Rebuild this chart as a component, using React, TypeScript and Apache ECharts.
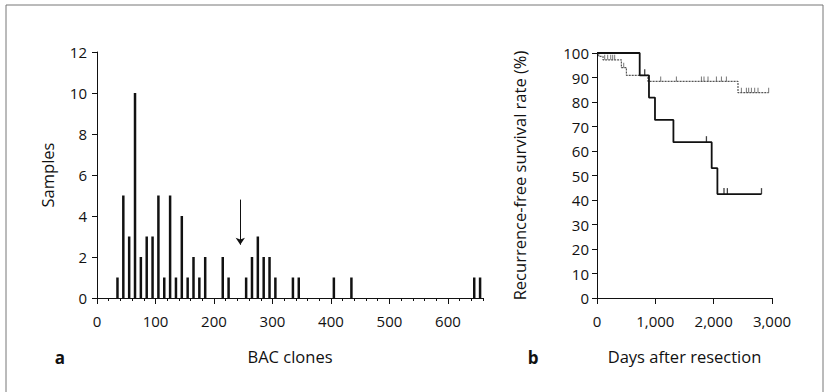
import React, { useEffect, useRef } from "react";
import * as echarts from "echarts";

// ---- Panel a: histogram of BAC clones ----
const binCenters = [35, 45, 55, 65, 75, 85, 95, 105, 115, 125, 135, 145, 155, 165, 175, 185, 215, 225, 255, 265, 275, 285, 295, 305, 335, 345, 405, 435, 645, 655];
const sampleCounts = [1, 5, 3, 10, 2, 3, 3, 5, 1, 5, 1, 4, 1, 2, 1, 2, 2, 1, 1, 2, 3, 2, 2, 1, 1, 1, 1, 1, 1, 1];
const bacMajorTicks = [0, 100, 200, 300, 400, 500, 600];
const arrowX = 245;
const arrowFromY = 4.8;
const arrowToY = 2.6;

// ---- Panel b: Kaplan-Meier curves ----
const solidTimes = [0, 732, 891, 994, 1310, 1966, 2064, 2820];
const solidSurv = [100, 90.9, 81.8, 72.7, 63.6, 53.0, 42.4, 42.4];
const solidCensor = [818, 1876, 2177, 2235, 2820];
const dottedTimes = [0, 29, 103, 418, 504, 874, 2417, 2943];
const dottedSurv = [100, 98.6, 97.2, 94.0, 90.9, 88.4, 83.8, 83.8];
const dottedCensor = [132, 183, 235, 269, 303, 458, 1092, 1361, 1790, 1834, 1903, 2047, 2133, 2218, 2475, 2561, 2600, 2647, 2703, 2760, 2943];

function survAt(times: number[], surv: number[], t: number) {
  let s = surv[0];
  for (let i = 0; i < times.length; i++) if (times[i] <= t) s = surv[i];
  return s;
}

const INK = "#111";
const FONT = "Open Sans";

export default function App() {
  const ref = useRef<HTMLDivElement>(null);
  useEffect(() => {
    if (!ref.current) return;
    const chart = echarts.init(ref.current, null, { renderer: "svg" });
    const axisLine = { show: true, lineStyle: { color: INK, width: 1 } };
    const lbl = { color: INK, fontFamily: FONT, fontSize: 15 };
    const nameStyle = { color: INK, fontFamily: FONT, fontSize: 16.5 };
    chart.setOption({
      animation: false,
      backgroundColor: "#fff",
      grid: [
        { left: 97, top: 52, width: 386, height: 246 },
        { left: 597, top: 53, width: 175, height: 245 },
      ],
      xAxis: [
        {
          gridIndex: 0, type: "value", min: 0, max: 660, interval: 20,
          axisLine, splitLine: { show: false },
          axisTick: { show: true, length: 3, lineStyle: { color: INK } },
          axisLabel: { ...lbl, margin: 15, formatter: (v: number) => (bacMajorTicks.includes(v) ? String(v) : "") },
          name: "BAC clones", nameLocation: "middle", nameGap: 50, nameTextStyle: nameStyle,
        },
        {
          gridIndex: 0, type: "value", min: 0, max: 660, position: "bottom",
          axisLine: { show: false }, splitLine: { show: false },
          axisTick: { show: true, length: 6, customValues: bacMajorTicks, lineStyle: { color: INK } },
          axisLabel: { show: false },
        },
        {
          gridIndex: 1, type: "value", min: 0, max: 3000, interval: 1000,
          axisLine, splitLine: { show: false },
          axisTick: { show: true, length: 6, lineStyle: { color: INK } },
          axisLabel: { ...lbl, margin: 15, formatter: (v: number) => v.toLocaleString("en-US") },
          name: "Days after resection", nameLocation: "middle", nameGap: 50, nameTextStyle: nameStyle,
        },
      ],
      yAxis: [
        {
          gridIndex: 0, type: "value", min: 0, max: 12, interval: 2,
          axisLine, splitLine: { show: false },
          axisTick: { show: true, length: 5, lineStyle: { color: INK } },
          axisLabel: { ...lbl, margin: 10 },
          name: "Samples", nameLocation: "middle", nameGap: 41, nameTextStyle: nameStyle,
        },
        {
          gridIndex: 1, type: "value", min: 0, max: 100, interval: 10,
          axisLine, splitLine: { show: false },
          axisTick: { show: true, length: 5, lineStyle: { color: INK } },
          axisLabel: { ...lbl, margin: 8 },
          name: "Recurrence-free survival rate (%)", nameLocation: "middle", nameGap: 69, nameTextStyle: nameStyle,
        },
      ],
      series: [
        {
          type: "bar", xAxisIndex: 0, yAxisIndex: 0, barWidth: 2.5,
          itemStyle: { color: INK },
          data: binCenters.map((x, i) => [x, sampleCounts[i]]),
          markLine: {
            silent: true, symbol: ["none", "arrow"], symbolSize: 7,
            lineStyle: { color: INK, width: 1, type: "solid" },
            label: { show: false },
            data: [[{ coord: [arrowX, arrowFromY] }, { coord: [arrowX, arrowToY] }]],
          },
        },
        {
          type: "line", xAxisIndex: 2, yAxisIndex: 1, step: "end", showSymbol: false,
          lineStyle: { color: "#555", width: 1.2, type: [2, 1] },
          data: dottedTimes.map((t, i) => [t, dottedSurv[i]]),
        },
        {
          type: "line", xAxisIndex: 2, yAxisIndex: 1, step: "end", showSymbol: false,
          lineStyle: { color: INK, width: 1.8 },
          data: solidTimes.map((t, i) => [t, solidSurv[i]]),
        },
        {
          type: "scatter", xAxisIndex: 2, yAxisIndex: 1, symbol: "rect", symbolSize: [1, 5], symbolOffset: [0, -2.5],
          itemStyle: { color: "#555" },
          data: dottedCensor.map((t) => [t, survAt(dottedTimes, dottedSurv, t)]),
        },
        {
          type: "scatter", xAxisIndex: 2, yAxisIndex: 1, symbol: "rect", symbolSize: [1.3, 6], symbolOffset: [0, -3],
          itemStyle: { color: INK },
          data: solidCensor.map((t) => [t, survAt(solidTimes, solidSurv, t)]),
        },
      ],
      graphic: [
        { type: "rect", shape: { x: 6, y: 5, width: 817, height: 400 }, style: { fill: "none", stroke: "#777", lineWidth: 1 }, silent: true },
        { type: "text", x: 60, y: 357, style: { text: "a", fontFamily: FONT, fontWeight: "bold", fontSize: 17, fill: INK, align: "center", verticalAlign: "middle" } },
        { type: "text", x: 533, y: 357, style: { text: "b", fontFamily: FONT, fontWeight: "bold", fontSize: 17, fill: INK, align: "center", verticalAlign: "middle" } },
      ],
    });
    return () => chart.dispose();
  }, []);
  return <div ref={ref} style={{ position: "absolute", left: 0, top: 0, width: 827, height: 392 }} />;
}
